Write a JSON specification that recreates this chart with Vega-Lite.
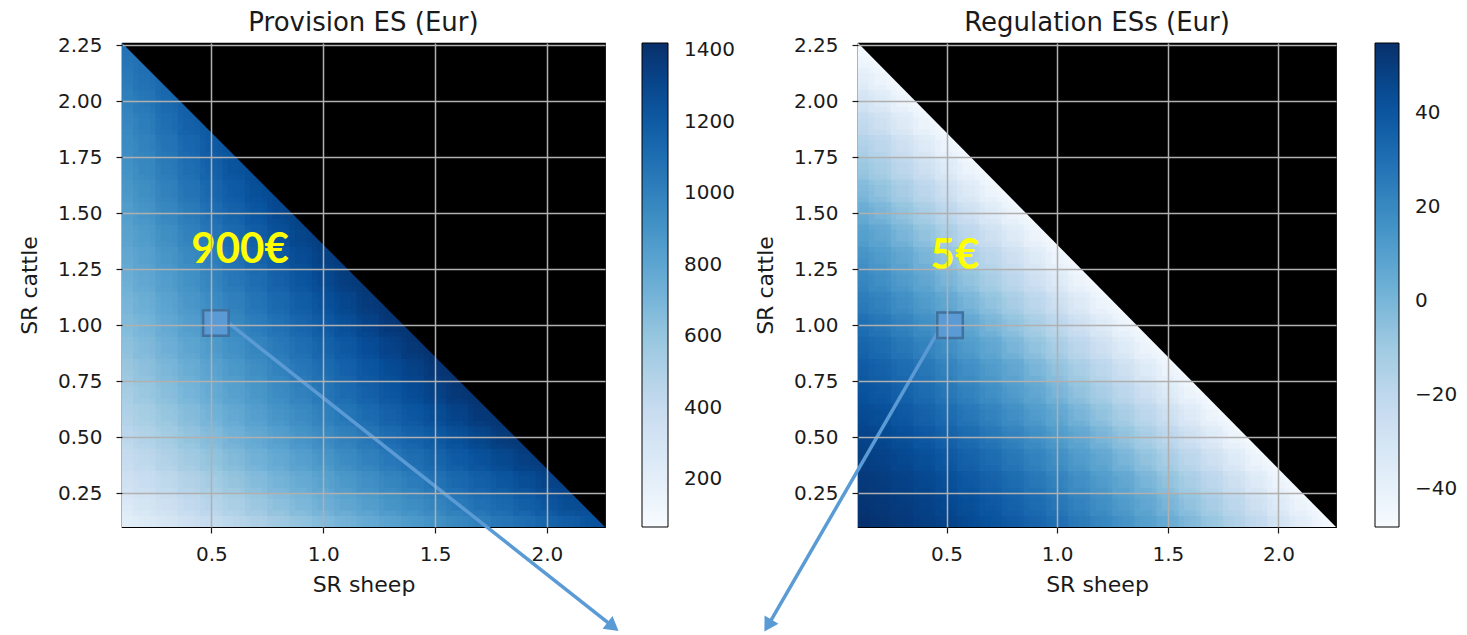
{
"$schema": "https://vega.github.io/schema/vega-lite/v6.json",
"background": "white",
"padding": {"left": 17, "top": 9, "right": 5, "bottom": 2},
"config": {
"font": "DejaVu Sans",
"view": {"stroke": "#000", "strokeWidth": 1.2},
"axis": {"labelFont": "DejaVu Sans", "titleFont": "DejaVu Sans", "labelFontSize": 20, "titleFontSize": 22, "titleFontWeight": "normal", "labelColor": "#1a1a1a", "titleColor": "#1a1a1a", "tickColor": "#1a1a1a", "tickSize": 6, "tickWidth": 1.2, "domain": false, "grid": true, "gridColor": "#b0b0b0", "gridWidth": 1.5, "gridOpacity": 1, "labelFlush": false},
"axisX": {"labelPadding": 11, "titlePadding": 10},
"axisY": {"labelPadding": 14, "titlePadding": 16},
"title": {"fontSize": 26, "fontWeight": "normal", "color": "#1a1a1a", "font": "DejaVu Sans"},
"concat": {"spacing": 17}
},
"datasets": {
"cells": [
{"x":0.15,"y":0.15,"p":205,"r":54},{"x":0.25,"y":0.15,"p":261,"r":52},{"x":0.35,"y":0.15,"p":316,"r":50},{"x":0.45,"y":0.15,"p":371,"r":48},{"x":0.55,"y":0.15,"p":425,"r":46},{"x":0.65,"y":0.15,"p":478,"r":43},{"x":0.75,"y":0.15,"p":531,"r":40},{"x":0.85,"y":0.15,"p":583,"r":36},{"x":0.95,"y":0.15,"p":635,"r":32},{"x":1.05,"y":0.15,"p":686,"r":28},{"x":1.15,"y":0.15,"p":737,"r":23},{"x":1.25,"y":0.15,"p":786,"r":19},{"x":1.35,"y":0.15,"p":836,"r":13},{"x":1.45,"y":0.15,"p":884,"r":8},{"x":1.55,"y":0.15,"p":933,"r":2},{"x":1.65,"y":0.15,"p":980,"r":-5},{"x":1.75,"y":0.15,"p":1026,"r":-11},{"x":1.85,"y":0.15,"p":1073,"r":-18},{"x":1.95,"y":0.15,"p":1118,"r":-25},{"x":2.05,"y":0.15,"p":1164,"r":-33},{"x":2.15,"y":0.15,"p":1208,"r":-41},{"x":2.25,"y":0.15,"p":1252,"r":-48},
{"x":0.15,"y":0.25,"p":296,"r":52},{"x":0.25,"y":0.25,"p":352,"r":50},{"x":0.35,"y":0.25,"p":408,"r":48},{"x":0.45,"y":0.25,"p":464,"r":46},{"x":0.55,"y":0.25,"p":519,"r":43},{"x":0.65,"y":0.25,"p":573,"r":40},{"x":0.75,"y":0.25,"p":627,"r":36},{"x":0.85,"y":0.25,"p":680,"r":32},{"x":0.95,"y":0.25,"p":732,"r":28},{"x":1.05,"y":0.25,"p":785,"r":23},{"x":1.15,"y":0.25,"p":836,"r":19},{"x":1.25,"y":0.25,"p":887,"r":13},{"x":1.35,"y":0.25,"p":937,"r":8},{"x":1.45,"y":0.25,"p":986,"r":2},{"x":1.55,"y":0.25,"p":1036,"r":-5},{"x":1.65,"y":0.25,"p":1084,"r":-11},{"x":1.75,"y":0.25,"p":1131,"r":-18},{"x":1.85,"y":0.25,"p":1179,"r":-25},{"x":1.95,"y":0.25,"p":1225,"r":-33},{"x":2.05,"y":0.25,"p":1271,"r":-41},{"x":2.15,"y":0.25,"p":1317,"r":-48},
{"x":0.15,"y":0.35,"p":362,"r":50},{"x":0.25,"y":0.35,"p":419,"r":48},{"x":0.35,"y":0.35,"p":477,"r":46},{"x":0.45,"y":0.35,"p":533,"r":43},{"x":0.55,"y":0.35,"p":589,"r":40},{"x":0.65,"y":0.35,"p":644,"r":36},{"x":0.75,"y":0.35,"p":699,"r":32},{"x":0.85,"y":0.35,"p":753,"r":28},{"x":0.95,"y":0.35,"p":806,"r":23},{"x":1.05,"y":0.35,"p":859,"r":19},{"x":1.15,"y":0.35,"p":912,"r":13},{"x":1.25,"y":0.35,"p":963,"r":8},{"x":1.35,"y":0.35,"p":1014,"r":2},{"x":1.45,"y":0.35,"p":1064,"r":-5},{"x":1.55,"y":0.35,"p":1115,"r":-11},{"x":1.65,"y":0.35,"p":1164,"r":-18},{"x":1.75,"y":0.35,"p":1212,"r":-25},{"x":1.85,"y":0.35,"p":1260,"r":-33},{"x":1.95,"y":0.35,"p":1308,"r":-41},{"x":2.05,"y":0.35,"p":1355,"r":-48},
{"x":0.15,"y":0.45,"p":419,"r":48},{"x":0.25,"y":0.45,"p":477,"r":46},{"x":0.35,"y":0.45,"p":535,"r":43},{"x":0.45,"y":0.45,"p":592,"r":40},{"x":0.55,"y":0.45,"p":649,"r":36},{"x":0.65,"y":0.45,"p":705,"r":32},{"x":0.75,"y":0.45,"p":760,"r":28},{"x":0.85,"y":0.45,"p":816,"r":23},{"x":0.95,"y":0.45,"p":870,"r":19},{"x":1.05,"y":0.45,"p":924,"r":13},{"x":1.15,"y":0.45,"p":977,"r":8},{"x":1.25,"y":0.45,"p":1029,"r":2},{"x":1.35,"y":0.45,"p":1081,"r":-5},{"x":1.45,"y":0.45,"p":1133,"r":-11},{"x":1.55,"y":0.45,"p":1184,"r":-18},{"x":1.65,"y":0.45,"p":1234,"r":-25},{"x":1.75,"y":0.45,"p":1283,"r":-33},{"x":1.85,"y":0.45,"p":1332,"r":-41},{"x":1.95,"y":0.45,"p":1380,"r":-48},
{"x":0.15,"y":0.55,"p":469,"r":46},{"x":0.25,"y":0.55,"p":528,"r":43},{"x":0.35,"y":0.55,"p":587,"r":40},{"x":0.45,"y":0.55,"p":645,"r":36},{"x":0.55,"y":0.55,"p":703,"r":32},{"x":0.65,"y":0.55,"p":760,"r":28},{"x":0.75,"y":0.55,"p":816,"r":23},{"x":0.85,"y":0.55,"p":872,"r":19},{"x":0.95,"y":0.55,"p":927,"r":13},{"x":1.05,"y":0.55,"p":982,"r":8},{"x":1.15,"y":0.55,"p":1037,"r":2},{"x":1.25,"y":0.55,"p":1090,"r":-5},{"x":1.35,"y":0.55,"p":1143,"r":-11},{"x":1.45,"y":0.55,"p":1195,"r":-18},{"x":1.55,"y":0.55,"p":1247,"r":-25},{"x":1.65,"y":0.55,"p":1298,"r":-33},{"x":1.75,"y":0.55,"p":1348,"r":-41},{"x":1.85,"y":0.55,"p":1398,"r":-48},
{"x":0.15,"y":0.65,"p":517,"r":43},{"x":0.25,"y":0.65,"p":576,"r":40},{"x":0.35,"y":0.65,"p":636,"r":36},{"x":0.45,"y":0.65,"p":695,"r":32},{"x":0.55,"y":0.65,"p":754,"r":28},{"x":0.65,"y":0.65,"p":812,"r":23},{"x":0.75,"y":0.65,"p":869,"r":19},{"x":0.85,"y":0.65,"p":926,"r":13},{"x":0.95,"y":0.65,"p":982,"r":8},{"x":1.05,"y":0.65,"p":1038,"r":2},{"x":1.15,"y":0.65,"p":1093,"r":-5},{"x":1.25,"y":0.65,"p":1147,"r":-11},{"x":1.35,"y":0.65,"p":1201,"r":-18},{"x":1.45,"y":0.65,"p":1254,"r":-25},{"x":1.55,"y":0.65,"p":1307,"r":-33},{"x":1.65,"y":0.65,"p":1359,"r":-41},{"x":1.75,"y":0.65,"p":1410,"r":-48},
{"x":0.15,"y":0.75,"p":560,"r":40},{"x":0.25,"y":0.75,"p":621,"r":36},{"x":0.35,"y":0.75,"p":682,"r":32},{"x":0.45,"y":0.75,"p":742,"r":28},{"x":0.55,"y":0.75,"p":801,"r":23},{"x":0.65,"y":0.75,"p":860,"r":19},{"x":0.75,"y":0.75,"p":918,"r":13},{"x":0.85,"y":0.75,"p":976,"r":8},{"x":0.95,"y":0.75,"p":1033,"r":2},{"x":1.05,"y":0.75,"p":1090,"r":-5},{"x":1.15,"y":0.75,"p":1145,"r":-11},{"x":1.25,"y":0.75,"p":1200,"r":-18},{"x":1.35,"y":0.75,"p":1255,"r":-25},{"x":1.45,"y":0.75,"p":1309,"r":-33},{"x":1.55,"y":0.75,"p":1363,"r":-41},{"x":1.65,"y":0.75,"p":1416,"r":-48},
{"x":0.15,"y":0.85,"p":602,"r":36},{"x":0.25,"y":0.85,"p":664,"r":32},{"x":0.35,"y":0.85,"p":726,"r":28},{"x":0.45,"y":0.85,"p":787,"r":23},{"x":0.55,"y":0.85,"p":847,"r":19},{"x":0.65,"y":0.85,"p":907,"r":13},{"x":0.75,"y":0.85,"p":966,"r":8},{"x":0.85,"y":0.85,"p":1025,"r":2},{"x":0.95,"y":0.85,"p":1082,"r":-5},{"x":1.05,"y":0.85,"p":1140,"r":-11},{"x":1.15,"y":0.85,"p":1197,"r":-18},{"x":1.25,"y":0.85,"p":1253,"r":-25},{"x":1.35,"y":0.85,"p":1308,"r":-33},{"x":1.45,"y":0.85,"p":1363,"r":-41},{"x":1.55,"y":0.85,"p":1418,"r":-48},
{"x":0.15,"y":0.95,"p":642,"r":32},{"x":0.25,"y":0.95,"p":705,"r":28},{"x":0.35,"y":0.95,"p":767,"r":23},{"x":0.45,"y":0.95,"p":829,"r":19},{"x":0.55,"y":0.95,"p":890,"r":13},{"x":0.65,"y":0.95,"p":951,"r":8},{"x":0.75,"y":0.95,"p":1011,"r":2},{"x":0.85,"y":0.95,"p":1070,"r":-5},{"x":0.95,"y":0.95,"p":1129,"r":-11},{"x":1.05,"y":0.95,"p":1188,"r":-18},{"x":1.15,"y":0.95,"p":1245,"r":-25},{"x":1.25,"y":0.95,"p":1302,"r":-33},{"x":1.35,"y":0.95,"p":1359,"r":-41},{"x":1.45,"y":0.95,"p":1414,"r":-48},
{"x":0.15,"y":1.05,"p":681,"r":28},{"x":0.25,"y":1.05,"p":745,"r":23},{"x":0.35,"y":1.05,"p":808,"r":19},{"x":0.45,"y":1.05,"p":871,"r":13},{"x":0.55,"y":1.05,"p":934,"r":8},{"x":0.65,"y":1.05,"p":995,"r":2},{"x":0.75,"y":1.05,"p":1056,"r":-5},{"x":0.85,"y":1.05,"p":1116,"r":-11},{"x":0.95,"y":1.05,"p":1176,"r":-18},{"x":1.05,"y":1.05,"p":1235,"r":-25},{"x":1.15,"y":1.05,"p":1294,"r":-33},{"x":1.25,"y":1.05,"p":1351,"r":-41},{"x":1.35,"y":1.05,"p":1409,"r":-48},
{"x":0.15,"y":1.15,"p":718,"r":23},{"x":0.25,"y":1.15,"p":782,"r":19},{"x":0.35,"y":1.15,"p":847,"r":13},{"x":0.45,"y":1.15,"p":910,"r":8},{"x":0.55,"y":1.15,"p":974,"r":2},{"x":0.65,"y":1.15,"p":1036,"r":-5},{"x":0.75,"y":1.15,"p":1097,"r":-11},{"x":0.85,"y":1.15,"p":1159,"r":-18},{"x":0.95,"y":1.15,"p":1219,"r":-25},{"x":1.05,"y":1.15,"p":1280,"r":-33},{"x":1.15,"y":1.15,"p":1339,"r":-41},{"x":1.25,"y":1.15,"p":1398,"r":-48},
{"x":0.15,"y":1.25,"p":754,"r":19},{"x":0.25,"y":1.25,"p":820,"r":13},{"x":0.35,"y":1.25,"p":885,"r":8},{"x":0.45,"y":1.25,"p":949,"r":2},{"x":0.55,"y":1.25,"p":1014,"r":-5},{"x":0.65,"y":1.25,"p":1077,"r":-11},{"x":0.75,"y":1.25,"p":1139,"r":-18},{"x":0.85,"y":1.25,"p":1202,"r":-25},{"x":0.95,"y":1.25,"p":1263,"r":-33},{"x":1.05,"y":1.25,"p":1324,"r":-41},{"x":1.15,"y":1.25,"p":1385,"r":-48},
{"x":0.15,"y":1.35,"p":790,"r":13},{"x":0.25,"y":1.35,"p":856,"r":8},{"x":0.35,"y":1.35,"p":922,"r":2},{"x":0.45,"y":1.35,"p":987,"r":-5},{"x":0.55,"y":1.35,"p":1053,"r":-11},{"x":0.65,"y":1.35,"p":1117,"r":-18},{"x":0.75,"y":1.35,"p":1180,"r":-25},{"x":0.85,"y":1.35,"p":1243,"r":-33},{"x":0.95,"y":1.35,"p":1306,"r":-41},{"x":1.05,"y":1.35,"p":1368,"r":-48},
{"x":0.15,"y":1.45,"p":824,"r":8},{"x":0.25,"y":1.45,"p":891,"r":2},{"x":0.35,"y":1.45,"p":958,"r":-5},{"x":0.45,"y":1.45,"p":1025,"r":-11},{"x":0.55,"y":1.45,"p":1091,"r":-18},{"x":0.65,"y":1.45,"p":1156,"r":-25},{"x":0.75,"y":1.45,"p":1220,"r":-33},{"x":0.85,"y":1.45,"p":1284,"r":-41},{"x":0.95,"y":1.45,"p":1347,"r":-48},
{"x":0.15,"y":1.55,"p":858,"r":2},{"x":0.25,"y":1.55,"p":926,"r":-5},{"x":0.35,"y":1.55,"p":994,"r":-11},{"x":0.45,"y":1.55,"p":1061,"r":-18},{"x":0.55,"y":1.55,"p":1128,"r":-25},{"x":0.65,"y":1.55,"p":1194,"r":-33},{"x":0.75,"y":1.55,"p":1259,"r":-41},{"x":0.85,"y":1.55,"p":1324,"r":-48},
{"x":0.15,"y":1.65,"p":890,"r":-5},{"x":0.25,"y":1.65,"p":959,"r":-11},{"x":0.35,"y":1.65,"p":1028,"r":-18},{"x":0.45,"y":1.65,"p":1096,"r":-25},{"x":0.55,"y":1.65,"p":1164,"r":-33},{"x":0.65,"y":1.65,"p":1231,"r":-41},{"x":0.75,"y":1.65,"p":1297,"r":-48},
{"x":0.15,"y":1.75,"p":922,"r":-11},{"x":0.25,"y":1.75,"p":992,"r":-18},{"x":0.35,"y":1.75,"p":1062,"r":-25},{"x":0.45,"y":1.75,"p":1131,"r":-33},{"x":0.55,"y":1.75,"p":1200,"r":-41},{"x":0.65,"y":1.75,"p":1268,"r":-48},
{"x":0.15,"y":1.85,"p":955,"r":-18},{"x":0.25,"y":1.85,"p":1026,"r":-25},{"x":0.35,"y":1.85,"p":1096,"r":-33},{"x":0.45,"y":1.85,"p":1166,"r":-41},{"x":0.55,"y":1.85,"p":1236,"r":-48},
{"x":0.15,"y":1.95,"p":986,"r":-25},{"x":0.25,"y":1.95,"p":1058,"r":-33},{"x":0.35,"y":1.95,"p":1130,"r":-41},{"x":0.45,"y":1.95,"p":1200,"r":-48},
{"x":0.15,"y":2.05,"p":1017,"r":-33},{"x":0.25,"y":2.05,"p":1089,"r":-41},{"x":0.35,"y":2.05,"p":1162,"r":-48},
{"x":0.15,"y":2.15,"p":1047,"r":-41},{"x":0.25,"y":2.15,"p":1121,"r":-48},
{"x":0.15,"y":2.25,"p":1078,"r":-48}
],
"edge": [{"x":0.1,"y":2.26,"top":2.26},{"x":2.26,"y":0.1,"top":2.26}]
},
"resolve": {"scale": {"color": "independent", "x": "independent", "y": "independent"}, "legend": {"color": "independent"}},
"hconcat": [
{
"width": 483, "height": 484,
"title": {"text": "Provision ES (Eur)", "offset": -1},
"layer": [
{"data": {"name": "cells"},
 "mark": {"type": "square", "size": 530, "opacity": 1, "strokeWidth": 0, "clip": true},
 "encoding": {
  "x": {"field": "x", "type": "quantitative", "title": "SR sheep", "scale": {"domain": [0.1, 2.26], "nice": false}, "axis": {"values": [0.5, 1, 1.5, 2], "format": ".1f", "zindex": 1, "grid": true}},
  "y": {"field": "y", "type": "quantitative", "title": "SR cattle", "scale": {"domain": [0.1, 2.26], "nice": false}, "axis": {"values": [0.25, 0.5, 0.75, 1, 1.25, 1.5, 1.75, 2, 2.25], "format": ".2f", "zindex": 1, "grid": true}},
  "color": {"field": "p", "type": "quantitative", "scale": {"domain": [66, 235.25, 404.5, 573.75, 743, 912.25, 1081.5, 1250.75, 1420], "range": ["#f7fbff", "#deebf7", "#c6dbef", "#9ecae1", "#6baed6", "#4292c6", "#2171b5", "#08519c", "#08306b"], "interpolate": "rgb", "clamp": true},
   "legend": {"title": null, "orient": "right", "direction": "vertical", "values": [200, 400, 600, 800, 1000, 1200, 1400], "format": "d", "gradientLength": 484, "gradientThickness": 26, "gradientStrokeColor": "#000", "gradientStrokeWidth": 1, "offset": 37, "labelOffset": 16, "labelFontSize": 20, "labelFont": "DejaVu Sans", "labelColor": "#1a1a1a"}}
 }},
{"data": {"name": "cells"},
 "mark": {"type": "square", "size": 2025, "opacity": 0.4, "strokeWidth": 0, "clip": true},
 "encoding": {
  "x": {"field": "x", "type": "quantitative", "title": "SR sheep", "scale": {"domain": [0.1, 2.26], "nice": false}},
  "y": {"field": "y", "type": "quantitative", "title": "SR cattle", "scale": {"domain": [0.1, 2.26], "nice": false}},
  "color": {"field": "p", "type": "quantitative"}
 }},
{"data": {"name": "cells"},
 "mark": {"type": "square", "size": 1156, "opacity": 0.3, "strokeWidth": 0, "clip": true},
 "encoding": {
  "x": {"field": "x", "type": "quantitative", "title": "SR sheep", "scale": {"domain": [0.1, 2.26], "nice": false}},
  "y": {"field": "y", "type": "quantitative", "title": "SR cattle", "scale": {"domain": [0.1, 2.26], "nice": false}},
  "color": {"field": "p", "type": "quantitative"}
 }},
{"data": {"name": "edge"},
 "mark": {"type": "area", "color": "#000", "opacity": 1, "clip": true},
 "encoding": {
  "x": {"field": "x", "type": "quantitative", "title": "SR sheep", "scale": {"domain": [0.1, 2.26], "nice": false}},
  "y": {"field": "y", "type": "quantitative", "title": "SR cattle", "scale": {"domain": [0.1, 2.26], "nice": false}},
  "y2": {"field": "top"}
 }},
{"data": {"values": [{"x": 0.57, "y": 1.015, "xe": 2.296, "ye": -0.345}]},
 "mark": {"type": "rule", "color": "#5B9BD5", "strokeWidth": 3.5},
 "encoding": {
  "x": {"field": "x", "type": "quantitative", "title": "SR sheep", "scale": {"domain": [0.1, 2.26], "nice": false}},
  "y": {"field": "y", "type": "quantitative", "title": "SR cattle", "scale": {"domain": [0.1, 2.26], "nice": false}},
  "x2": {"field": "xe"}, "y2": {"field": "ye"}
 }},
{"data": {"values": [{"x": 2.296, "y": -0.345}]},
 "mark": {"type": "point", "shape": "triangle-down", "filled": true, "size": 260, "color": "#5B9BD5", "opacity": 1, "angle": -52},
 "encoding": {
  "x": {"field": "x", "type": "quantitative", "title": "SR sheep", "scale": {"domain": [0.1, 2.26], "nice": false}},
  "y": {"field": "y", "type": "quantitative", "title": "SR cattle", "scale": {"domain": [0.1, 2.26], "nice": false}}
 }},
{"data": {"values": [{"x": 0.52, "y": 1.01}]},
 "mark": {"type": "square", "size": 650, "color": "#5B9BD5", "stroke": "#41719C", "strokeWidth": 2.5, "opacity": 1},
 "encoding": {
  "x": {"field": "x", "type": "quantitative", "title": "SR sheep", "scale": {"domain": [0.1, 2.26], "nice": false}},
  "y": {"field": "y", "type": "quantitative", "title": "SR cattle", "scale": {"domain": [0.1, 2.26], "nice": false}}
 }},
{"data": {"values": [{"x": 0.628, "y": 1.336, "label": "900€"}]},
 "mark": {"type": "text", "font": "Lato", "fontWeight": "bold", "fontSize": 42, "color": "#FFFF00", "baseline": "middle", "align": "center"},
 "encoding": {
  "x": {"field": "x", "type": "quantitative", "title": "SR sheep", "scale": {"domain": [0.1, 2.26], "nice": false}},
  "y": {"field": "y", "type": "quantitative", "title": "SR cattle", "scale": {"domain": [0.1, 2.26], "nice": false}},
  "text": {"field": "label"}
 }}
]
},
{
"width": 478, "height": 484,
"title": {"text": "Regulation ESs (Eur)", "offset": -1},
"layer": [
{"data": {"name": "cells"},
 "mark": {"type": "square", "size": 530, "opacity": 1, "strokeWidth": 0, "clip": true},
 "encoding": {
  "x": {"field": "x", "type": "quantitative", "title": "SR sheep", "scale": {"domain": [0.1, 2.26], "nice": false}, "axis": {"values": [0.5, 1, 1.5, 2], "format": ".1f", "zindex": 1, "grid": true}},
  "y": {"field": "y", "type": "quantitative", "title": "SR cattle", "scale": {"domain": [0.1, 2.26], "nice": false}, "axis": {"values": [0.25, 0.5, 0.75, 1, 1.25, 1.5, 1.75, 2, 2.25], "format": ".2f", "zindex": 1, "grid": true}},
  "color": {"field": "r", "type": "quantitative", "scale": {"domain": [-48, -35.125, -22.25, -9.375, 3.5, 16.375, 29.25, 42.125, 55], "range": ["#f7fbff", "#deebf7", "#c6dbef", "#9ecae1", "#6baed6", "#4292c6", "#2171b5", "#08519c", "#08306b"], "interpolate": "rgb", "clamp": true},
   "legend": {"title": null, "orient": "right", "direction": "vertical", "values": [-40, -20, 0, 20, 40], "format": "d", "gradientLength": 484, "gradientThickness": 24, "gradientStrokeColor": "#000", "gradientStrokeWidth": 1, "offset": 39, "labelOffset": 16, "labelFontSize": 20, "labelFont": "DejaVu Sans", "labelColor": "#1a1a1a"}}
 }},
{"data": {"name": "cells"},
 "mark": {"type": "square", "size": 2025, "opacity": 0.4, "strokeWidth": 0, "clip": true},
 "encoding": {
  "x": {"field": "x", "type": "quantitative", "title": "SR sheep", "scale": {"domain": [0.1, 2.26], "nice": false}},
  "y": {"field": "y", "type": "quantitative", "title": "SR cattle", "scale": {"domain": [0.1, 2.26], "nice": false}},
  "color": {"field": "r", "type": "quantitative"}
 }},
{"data": {"name": "cells"},
 "mark": {"type": "square", "size": 1156, "opacity": 0.3, "strokeWidth": 0, "clip": true},
 "encoding": {
  "x": {"field": "x", "type": "quantitative", "title": "SR sheep", "scale": {"domain": [0.1, 2.26], "nice": false}},
  "y": {"field": "y", "type": "quantitative", "title": "SR cattle", "scale": {"domain": [0.1, 2.26], "nice": false}},
  "color": {"field": "r", "type": "quantitative"}
 }},
{"data": {"name": "edge"},
 "mark": {"type": "area", "color": "#000", "opacity": 1, "clip": true},
 "encoding": {
  "x": {"field": "x", "type": "quantitative", "title": "SR sheep", "scale": {"domain": [0.1, 2.26], "nice": false}},
  "y": {"field": "y", "type": "quantitative", "title": "SR cattle", "scale": {"domain": [0.1, 2.26], "nice": false}},
  "y2": {"field": "top"}
 }},
{"data": {"values": [{"x": 0.4705, "y": 0.987, "xe": -0.307, "ye": -0.34}]},
 "mark": {"type": "rule", "color": "#5B9BD5", "strokeWidth": 3.5},
 "encoding": {
  "x": {"field": "x", "type": "quantitative", "title": "SR sheep", "scale": {"domain": [0.1, 2.26], "nice": false}},
  "y": {"field": "y", "type": "quantitative", "title": "SR cattle", "scale": {"domain": [0.1, 2.26], "nice": false}},
  "x2": {"field": "xe"}, "y2": {"field": "ye"}
 }},
{"data": {"values": [{"x": -0.307, "y": -0.34}]},
 "mark": {"type": "point", "shape": "triangle-down", "filled": true, "size": 260, "color": "#5B9BD5", "opacity": 1, "angle": 30.5},
 "encoding": {
  "x": {"field": "x", "type": "quantitative", "title": "SR sheep", "scale": {"domain": [0.1, 2.26], "nice": false}},
  "y": {"field": "y", "type": "quantitative", "title": "SR cattle", "scale": {"domain": [0.1, 2.26], "nice": false}}
 }},
{"data": {"values": [{"x": 0.516, "y": 1.0}]},
 "mark": {"type": "square", "size": 650, "color": "#5B9BD5", "stroke": "#41719C", "strokeWidth": 2.5, "opacity": 1},
 "encoding": {
  "x": {"field": "x", "type": "quantitative", "title": "SR sheep", "scale": {"domain": [0.1, 2.26], "nice": false}},
  "y": {"field": "y", "type": "quantitative", "title": "SR cattle", "scale": {"domain": [0.1, 2.26], "nice": false}}
 }},
{"data": {"values": [{"x": 0.538, "y": 1.31, "label": "5€"}]},
 "mark": {"type": "text", "font": "Lato", "fontWeight": "bold", "fontSize": 42, "color": "#FFFF00", "baseline": "middle", "align": "center"},
 "encoding": {
  "x": {"field": "x", "type": "quantitative", "title": "SR sheep", "scale": {"domain": [0.1, 2.26], "nice": false}},
  "y": {"field": "y", "type": "quantitative", "title": "SR cattle", "scale": {"domain": [0.1, 2.26], "nice": false}},
  "text": {"field": "label"}
 }}
]
}
]
}
